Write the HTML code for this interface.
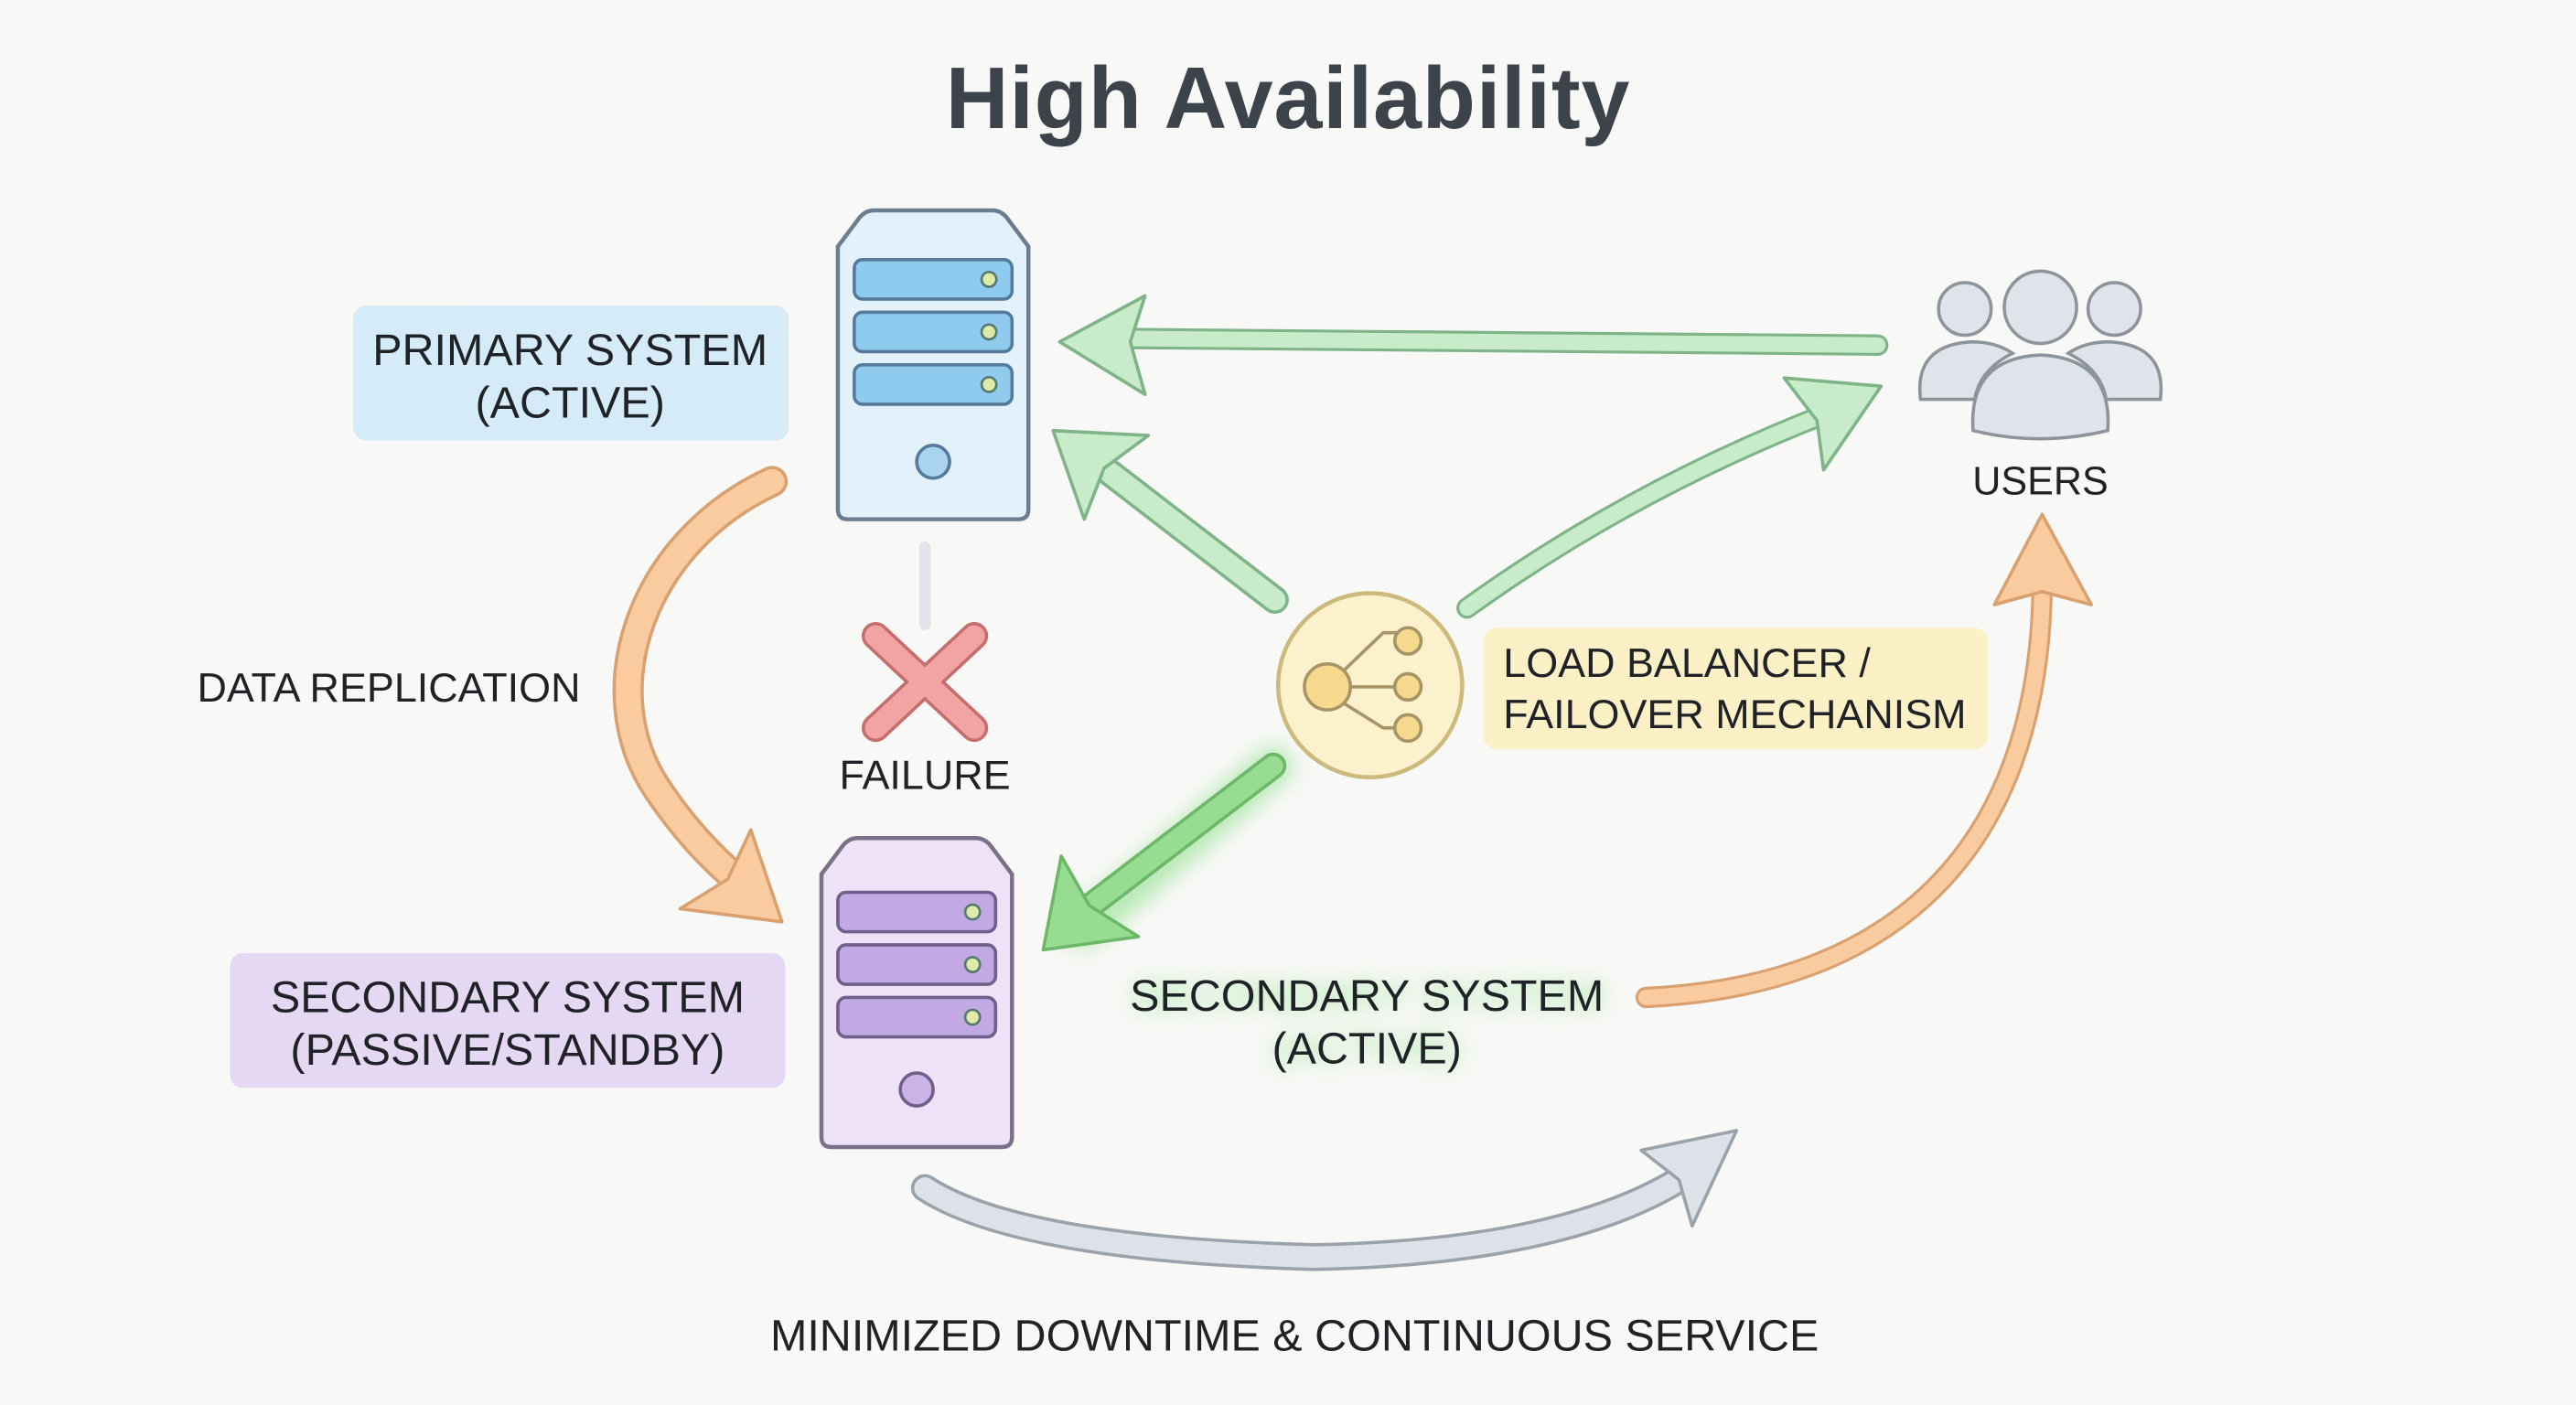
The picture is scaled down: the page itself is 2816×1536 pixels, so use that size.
<!DOCTYPE html>
<html><head><meta charset="utf-8"><style>
html,body{margin:0;padding:0;background:#f8f8f6;}
svg{display:block;}
text{font-family:"Liberation Sans",sans-serif;fill:#1f2226;}
</style></head><body>
<svg width="2816" height="1536" viewBox="0 0 1568 855" preserveAspectRatio="none" xmlns="http://www.w3.org/2000/svg">
<defs>
<filter id="glow" x="-50%" y="-50%" width="200%" height="200%"><feGaussianBlur stdDeviation="6"/></filter>
</defs>
<rect width="1568" height="855" fill="#f8f8f6"/>
<text x="784" y="78" text-anchor="middle" font-size="53" font-weight="bold" letter-spacing="0.5" style="fill:#3d434b">High Availability</text>

<!-- Primary label -->
<rect x="215" y="186" width="265" height="82" rx="8" fill="#d5ebf7"/>
<text x="347" y="222" text-anchor="middle" font-size="27">PRIMARY SYSTEM</text>
<text x="347" y="254" text-anchor="middle" font-size="27">(ACTIVE)</text>

<!-- Primary server -->
<path d="M532,128 L604,128 Q610,128 614,134 L626,150 L626,310 Q626,316 620,316 L516,316 Q510,316 510,310 L510,150 L522,134 Q526,128 532,128 Z" fill="#e3f1fa" stroke="#6b7e90" stroke-width="2.5"/>
<g fill="#8fcbee" stroke="#557a9a" stroke-width="2">
<rect x="520" y="158" width="96" height="24" rx="5"/><rect x="520" y="190" width="96" height="24" rx="5"/><rect x="520" y="222" width="96" height="24" rx="5"/>
</g>
<g fill="#dfeaa8" stroke="#557a70" stroke-width="1.5"><circle cx="602" cy="170" r="4.5"/><circle cx="602" cy="202" r="4.5"/><circle cx="602" cy="234" r="4.5"/></g>
<circle cx="568" cy="281" r="10" fill="#a9d3ee" stroke="#557a9a" stroke-width="2"/>

<!-- Failure -->
<line x1="563" y1="333" x2="563" y2="380" stroke="#e1e4e8" stroke-width="7" stroke-linecap="round"/>
<g stroke="#c66d6d" stroke-width="17" stroke-linecap="round"><line x1="533" y1="387" x2="593" y2="443"/><line x1="593" y1="387" x2="533" y2="443"/></g>
<g stroke="#f2a4a4" stroke-width="13" stroke-linecap="round"><line x1="533" y1="387" x2="593" y2="443"/><line x1="593" y1="387" x2="533" y2="443"/></g>
<text x="563" y="480" text-anchor="middle" font-size="25">FAILURE</text>

<!-- Data replication arrow -->
<text x="120" y="427" font-size="25">DATA REPLICATION</text>
<path d="M470,293 C390,330 360,420 400,480 Q420,510 445,532" fill="none" stroke="#d9a070" stroke-width="19" stroke-linecap="round"/>
<path d="M470,293 C390,330 360,420 400,480 Q420,510 445,532" fill="none" stroke="#fbcba0" stroke-width="15" stroke-linecap="round"/>
<polygon points="476,561 414,553 443,535 457,505" fill="#fbcba0" stroke="#d9a070" stroke-width="2" stroke-linejoin="round"/>

<!-- Secondary label -->
<rect x="140" y="580" width="338" height="82" rx="8" fill="#e5d8f3"/>
<text x="309" y="616" text-anchor="middle" font-size="27">SECONDARY SYSTEM</text>
<text x="309" y="648" text-anchor="middle" font-size="27">(PASSIVE/STANDBY)</text>

<!-- Secondary server -->
<path d="M522,510 L594,510 Q600,510 604,516 L616,532 L616,692 Q616,698 610,698 L506,698 Q500,698 500,692 L500,532 L512,516 Q516,510 522,510 Z" fill="#ede2f8" stroke="#7a7088" stroke-width="2.5"/>
<g fill="#c3a9e4" stroke="#6f5f8a" stroke-width="2">
<rect x="510" y="543" width="96" height="24" rx="5"/><rect x="510" y="575" width="96" height="24" rx="5"/><rect x="510" y="607" width="96" height="24" rx="5"/>
</g>
<g fill="#dfeaa8" stroke="#557a70" stroke-width="1.5"><circle cx="592" cy="555" r="4.5"/><circle cx="592" cy="587" r="4.5"/><circle cx="592" cy="619" r="4.5"/></g>
<circle cx="558" cy="663" r="10" fill="#cbb3e8" stroke="#6f5f8a" stroke-width="2"/>

<!-- Green arrows -->
<g stroke-linecap="round" stroke-linejoin="round">
<line x1="1143" y1="210" x2="688" y2="206" stroke="#7fb489" stroke-width="13"/>
<line x1="1143" y1="210" x2="688" y2="206" stroke="#c8ebc9" stroke-width="9.5"/>
<polygon points="645,208 697,180 688,208 697,240" fill="#c8ebc9" stroke="#7fb489" stroke-width="2"/>

<line x1="776" y1="365" x2="676" y2="288" stroke="#7fb489" stroke-width="17"/>
<line x1="776" y1="365" x2="676" y2="288" stroke="#c8ebc9" stroke-width="13"/>
<polygon points="641,262 699,265 672,285 660,316" fill="#c8ebc9" stroke="#7fb489" stroke-width="2"/>

<path d="M893,370 Q990,300 1106,254" fill="none" stroke="#7fb489" stroke-width="13"/>
<path d="M893,370 Q990,300 1106,254" fill="none" stroke="#c8ebc9" stroke-width="9.5"/>
<polygon points="1145,235 1086,230 1106,256 1110,286" fill="#c8ebc9" stroke="#7fb489" stroke-width="2"/>

<g filter="url(#glow)" opacity="0.6"><line x1="775" y1="466" x2="660" y2="565" stroke="#8ee08c" stroke-width="24"/></g>
<line x1="775" y1="466" x2="664" y2="551" stroke="#6cb868" stroke-width="16"/>
<line x1="775" y1="466" x2="664" y2="551" stroke="#98dc92" stroke-width="12"/>
<polygon points="635,578 646,521 663,551 693,570" fill="#98dc92" stroke="#6cb868" stroke-width="2"/>
</g>

<!-- Load balancer -->
<circle cx="834" cy="417" r="56" fill="#fbf1cd" stroke="#ccb97c" stroke-width="2.5"/>
<g stroke="#a89566" stroke-width="2" fill="none"><line x1="808" y1="418" x2="857" y2="418"/><path d="M818,408 L842,385 L857,385"/><path d="M818,428 L842,443 L857,443"/></g>
<g fill="#f6d98c" stroke="#a89566" stroke-width="2"><circle cx="808" cy="418" r="14"/><circle cx="857" cy="390" r="8"/><circle cx="857" cy="418" r="8"/><circle cx="857" cy="443" r="8"/></g>
<rect x="903" y="382" width="307" height="74" rx="8" fill="#fbf0c6"/>
<text x="915" y="412" font-size="25">LOAD BALANCER /</text>
<text x="915" y="443" font-size="25">FAILOVER MECHANISM</text>

<!-- Users -->
<g fill="#dfe4ea" stroke="#8e949b" stroke-width="2">
<path d="M1169,243 Q1165,210 1200,208 Q1215,208 1225,215 Q1205,225 1202,243 Z"/>
<path d="M1315,243 Q1319,210 1284,208 Q1269,208 1259,215 Q1279,225 1282,243 Z"/>
<circle cx="1196" cy="188" r="16"/><circle cx="1287" cy="188" r="16"/>
<path d="M1201,262 Q1198,218 1242,216 Q1286,218 1283,262 Q1242,272 1201,262 Z"/>
<circle cx="1242" cy="187" r="22"/>
</g>
<text x="1242" y="301" text-anchor="middle" font-size="24">USERS</text>

<!-- Secondary active -->
<g filter="url(#glow)"><text x="832" y="615" text-anchor="middle" font-size="27" style="fill:#9be69a">SECONDARY SYSTEM</text><text x="832" y="647" text-anchor="middle" font-size="27" style="fill:#9be69a">(ACTIVE)</text></g>
<text x="832" y="615" text-anchor="middle" font-size="27">SECONDARY SYSTEM</text>
<text x="832" y="647" text-anchor="middle" font-size="27">(ACTIVE)</text>

<!-- Orange to users -->
<path d="M1002,607 C1150,600 1240,520 1243,360" fill="none" stroke="#d9a070" stroke-width="13" stroke-linecap="round"/>
<path d="M1002,607 C1150,600 1240,520 1243,360" fill="none" stroke="#fbcba0" stroke-width="9.5" stroke-linecap="round"/>
<polygon points="1243,313 1273,368 1243,360 1214,368" fill="#fbcba0" stroke="#d9a070" stroke-width="2" stroke-linejoin="round"/>

<!-- Gray bottom -->
<path d="M563,723 Q620,760 800,765 Q950,762 1022,718" fill="none" stroke="#9aa2aa" stroke-width="17" stroke-linecap="round"/>
<path d="M563,723 Q620,760 800,765 Q950,762 1022,718" fill="none" stroke="#dce2e8" stroke-width="13" stroke-linecap="round"/>
<polygon points="1057,688 1030,746 1022,718 999,700" fill="#dce2e8" stroke="#9aa2aa" stroke-width="2" stroke-linejoin="round"/>

<text x="788" y="822" text-anchor="middle" font-size="27">MINIMIZED DOWNTIME &amp; CONTINUOUS SERVICE</text>
</svg>
</body></html>
